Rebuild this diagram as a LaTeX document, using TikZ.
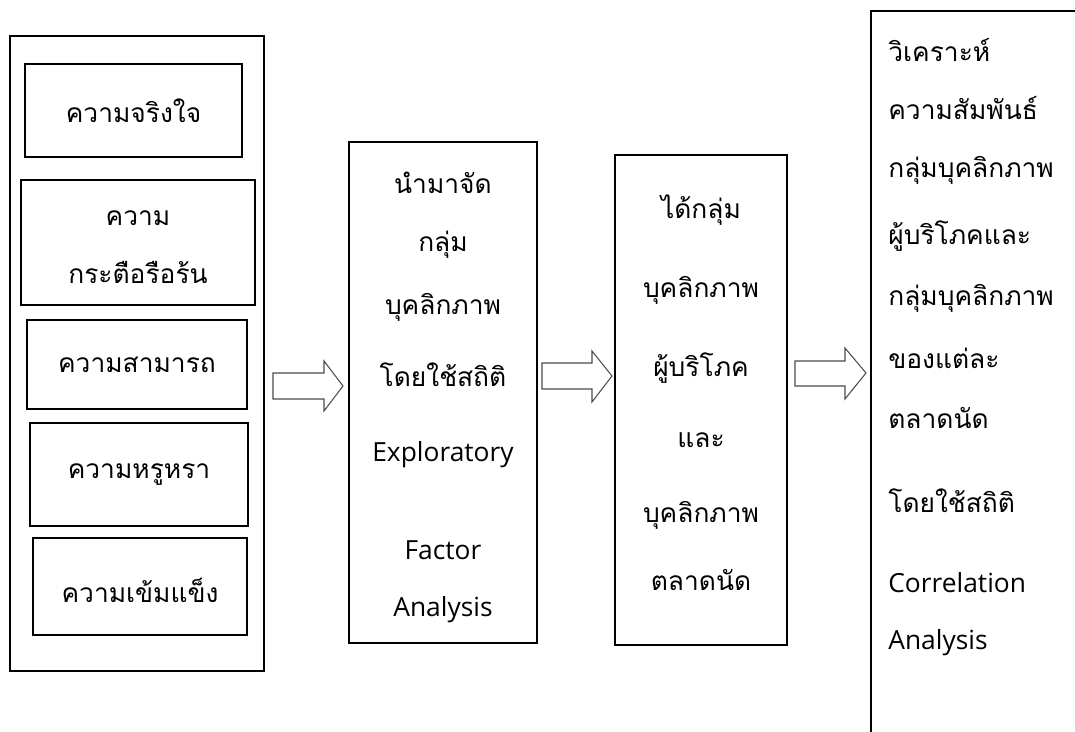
\documentclass[tikz,border=0pt]{standalone}
\usepackage{fontspec}
\newfontfamily\thaifont[Script=Thai]{Loma}
\newfontfamily\latfont{Open Sans}
\newcommand\mkbox[5]{\node[bx, minimum width={(#4-#2)*0.02cm}, minimum height={(#5-#3)*0.02cm}] (#1) at ({(#2+#4)/2},{(#3+#5)/2}) {};}
\begin{document}
\begin{tikzpicture}[x=0.02cm,y=-0.02cm,
  bx/.style={draw, line width=1.1pt, inner sep=0pt, outer sep=0pt},
  th/.style={font=\thaifont\fontsize{15}{18}\selectfont, inner sep=0pt},
  en/.style={font=\latfont\fontsize{15}{18}\selectfont, inner sep=0pt},
  blockarrow/.style={draw=black!70, line width=0.6pt, fill=white, line join=miter}]
\useasboundingbox (0,0) rectangle (1075,732);
% left column
\mkbox{outer}{10}{36}{264}{671}
\mkbox{b1}{25}{64}{242}{157}
\mkbox{b2}{21}{180}{255}{305}
\mkbox{b3}{27}{320}{247}{409}
\mkbox{b4}{30}{423}{248}{526}
\mkbox{b5}{33}{538}{247}{635}
\node[th] (t1) at (b1.center) {ความจริงใจ};
\node[th] (t2a) at (138,218) {ความ};
\node[th] (t2b) at (138,272) {กระตือรือร้น};
\node[th] (t3) at (b3.center) {ความสามารถ};
\node[th] (t4) at (b4.center) {ความหรูหรา};
\node[th] (t5) at (140,590) {ความเข้มแข็ง};
% middle column
\mkbox{mid}{349}{142}{537}{643}
\node[th] (m1) at (443,183) {นำมาจัด};
\node[th] (m2) at (443,245) {กลุ่ม};
\node[th] (m3) at (443,307) {บุคลิกภาพ};
\node[th] (m4) at (443,375) {โดยใช้สถิติ};
\node[en] (m5) at (443,455) {Exploratory};
\node[en] (m6) at (443,550) {Factor};
\node[en] (m7) at (443,610) {Analysis};
% third column
\mkbox{res}{615}{155}{787}{645}
\node[th] (r1) at (701,210) {ได้กลุ่ม};
\node[th] (r2) at (701,290) {บุคลิกภาพ};
\node[th] (r3) at (701,368) {ผู้บริโภค};
\node[th] (r4) at (701,440) {และ};
\node[th] (r5) at (701,515) {บุคลิกภาพ};
\node[th] (r6) at (701,580) {ตลาดนัด};
% right column
\mkbox{ana}{871}{11}{1080}{745}
\node[th, anchor=west] (a1) at (888,50) {วิเคราะห์};
\node[th, anchor=west] (a2) at (888,108) {ความสัมพันธ์};
\node[th, anchor=west] (a3) at (888,170) {กลุ่มบุคลิกภาพ};
\node[th, anchor=west] (a4) at (888,236) {ผู้บริโภคและ};
\node[th, anchor=west] (a5) at (888,298) {กลุ่มบุคลิกภาพ};
\node[th, anchor=west] (a6) at (888,358) {ของแต่ละ};
\node[th, anchor=west] (a7) at (888,418) {ตลาดนัด};
\node[th, anchor=west] (a8) at (888,501) {โดยใช้สถิติ};
\node[en, anchor=west] (a9) at (888,583) {Correlation};
\node[en, anchor=west] (a10) at (888,643) {Analysis};
% block arrows
\draw[blockarrow] (273,373) -- (324,373) -- (324,361) -- (343,386) -- (324,411) -- (324,399) -- (273,399) -- cycle;
\draw[blockarrow] (542,363) -- (592,363) -- (592,351) -- (612,376) -- (592,402) -- (592,389) -- (542,389) -- cycle;
\draw[blockarrow] (795,361) -- (845,361) -- (845,348) -- (866,373) -- (845,399) -- (845,386) -- (795,386) -- cycle;
\end{tikzpicture}
\end{document}
